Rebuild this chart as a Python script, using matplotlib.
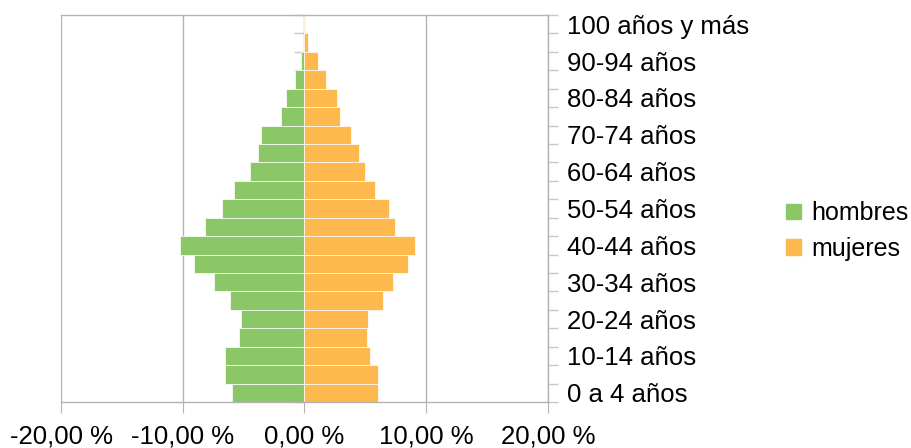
import numpy as np
import matplotlib
matplotlib.use("Agg")
import matplotlib.pyplot as plt
from matplotlib.patches import Patch
from matplotlib.ticker import FuncFormatter

plt.rcParams['font.family'] = ['Liberation Sans', 'DejaVu Sans']

# age groups, bottom to top
grupos = ['0 a 4 años', '5-9 años', '10-14 años', '15-19 años', '20-24 años',
          '25-29 años', '30-34 años', '35-39 años', '40-44 años', '45-49 años',
          '50-54 años', '55-59 años', '60-64 años', '65-69 años', '70-74 años',
          '75-79 años', '80-84 años', '85-89 años', '90-94 años', '95-99 años',
          '100 años y más']
hombres = [5.92, 6.49, 6.49, 5.42, 5.18, 6.16, 7.40, 9.04, 10.19, 8.14,
           6.74, 5.83, 4.44, 3.86, 3.60, 1.89, 1.56, 0.74, 0.25, 0.05, 0.01]
mujeres = [6.00, 6.00, 5.42, 5.10, 5.18, 6.41, 7.23, 8.46, 9.04, 7.40,
           6.98, 5.75, 5.00, 4.50, 3.86, 2.90, 2.70, 1.80, 1.07, 0.25, 0.08]
x_ticks = [-20, -10, 0, 10, 20]

verde = '#8bc766'
naranja = '#fdb94e'
gris = '#b3b3b3'

fig = plt.figure(figsize=(9.12, 4.48), dpi=100)
ax = fig.add_axes([61 / 912, 1 - 402 / 448, (548 - 61) / 912, (402 - 15) / 448])

y = np.arange(len(grupos))
ax.barh(y, -np.array(hombres), height=1, color=verde, edgecolor='white', linewidth=0.5)
ax.barh(y, mujeres, height=1, color=naranja, edgecolor='white', linewidth=0.5)

ax.set_xlim(-20, 20)
ax.set_ylim(-0.5, len(grupos) - 0.5)
ax.set_axisbelow(True)

ax.set_xticks(x_ticks)
ax.xaxis.set_major_formatter(FuncFormatter(lambda v, p: f"{v:.2f}".replace('.', ',') + ' %'))
ax.tick_params(axis='x', length=8, color=gris, labelsize=18.5, pad=8)
ax.grid(axis='x', color=gris, linewidth=1)

# labels on the right, every second group
ax.set_yticks(y[::2])
ax.set_yticklabels(grupos[::2])
ax.set_yticks(np.arange(-0.5, len(grupos), 1), minor=True)
ax.tick_params(axis='y', which='major', left=False, right=False,
               labelleft=False, labelright=True, labelsize=18.5, pad=10.5)
ax.tick_params(axis='y', which='minor', left=True, right=True, length=7.5,
               color='#c8c8c8', width=1)

ax.spines['left'].set_position(('data', 0))
ax.spines['left'].set_visible(False)
for s in ['top', 'bottom', 'right']:
    ax.spines[s].set_color(gris)
    ax.spines[s].set_linewidth(1)

handles = [Patch(color=verde), Patch(color=naranja)]
fig.legend(handles, ['hombres', 'mujeres'], loc='center left',
           bbox_to_anchor=(786 / 912, 1 - 231 / 448), frameon=False,
           fontsize=18, handlelength=0.6, handleheight=0.6,
           handletextpad=0.4, labelspacing=0.45, borderpad=0,
           borderaxespad=0)

fig.savefig('out.png', dpi=100)
